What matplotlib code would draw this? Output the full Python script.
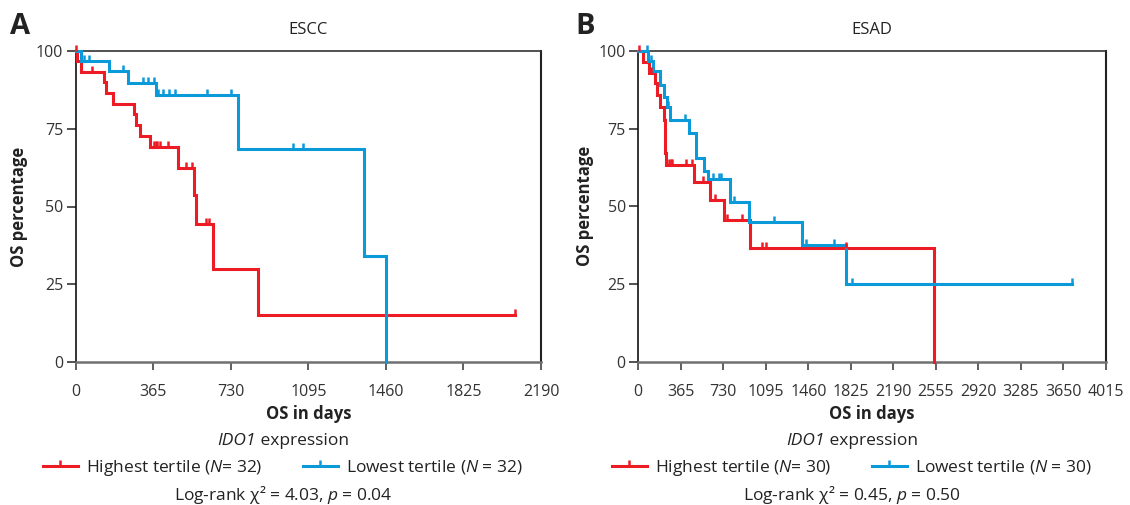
import numpy as np
import matplotlib
matplotlib.use("Agg")
import matplotlib.pyplot as plt
from matplotlib.path import Path
from matplotlib.lines import Line2D
from matplotlib.offsetbox import TextArea, HPacker, AnchoredOffsetbox

plt.rcParams['font.family'] = ['Open Sans', 'DejaVu Sans']
plt.rcParams['mathtext.fontset'] = 'custom'
plt.rcParams['mathtext.rm'] = 'Open Sans'
plt.rcParams['mathtext.it'] = 'Open Sans:italic'
plt.rcParams['mathtext.bf'] = 'Open Sans:bold'

RED = '#ED1C24'
BLUE = '#0A9AD9'
TXT = '#222222'

# ---- data ----
# ESCC, highest tertile
escc_hi_t = [0, 8, 24, 133, 141, 177, 274, 284, 303, 350, 483, 557, 566, 648, 856]
escc_hi_s = [100, 96.8, 93.4, 90.0, 86.6, 83.1, 79.7, 76.1, 72.6, 69.2, 62.4, 53.6, 44.5, 29.8, 15.0]
escc_hi_cens = [0, 78, 368, 376, 384, 397, 436, 519, 546, 613, 629, 2067]
# ESCC, lowest tertile
escc_lo_t = [0, 24, 158, 248, 376, 765, 1358, 1460]
escc_lo_s = [100, 96.8, 93.6, 89.8, 85.8, 68.5, 34.1, 0]
escc_lo_cens = [39, 63, 224, 318, 342, 368, 389, 412, 441, 469, 618, 731, 1024, 1071]
# ESAD, highest tertile
esad_hi_t = [0, 43, 95, 143, 158, 186, 221, 229, 238, 478, 616, 736, 960, 2538]
esad_hi_s = [100, 96.5, 93.0, 89.6, 85.8, 82.1, 77.7, 67.1, 63.3, 57.9, 52.0, 45.6, 36.6, 0]
esad_hi_cens = [10, 110, 266, 278, 287, 410, 459, 558, 659, 765, 888, 1060, 1094, 1783]
# ESAD, lowest tertile
esad_lo_t = [0, 86, 124, 186, 221, 249, 272, 438, 496, 564, 602, 788, 954, 1409, 1783]
esad_lo_s = [100, 96.8, 93.5, 89.1, 85.3, 81.9, 77.8, 73.5, 65.5, 61.5, 58.7, 51.5, 45.0, 37.6, 25.1]
esad_lo_cens = [75, 106, 258, 401, 639, 696, 708, 822, 1166, 1441, 1684, 1833, 3723]

escc_xticks = list(range(0, 2191, 365))
esad_xticks = list(range(0, 4016, 365))
yticks = [0, 25, 50, 75, 100]

# censor tick: short vertical stroke pointing up
tick_mark = Path([(0, 0), (0, 1)], [Path.MOVETO, Path.LINETO])


def km_curve(ax, t, s, cens, color):
    t = np.array(t, float)
    s = np.array(s, float)
    x = list(t)
    y = list(s)
    if len(cens) and max(cens) > t[-1]:
        x.append(max(cens))
        y.append(s[-1])
    ax.step(x, y, where='post', color=color, lw=2.2, clip_on=False,
            solid_joinstyle='miter', zorder=3)
    c = np.array(cens, float)
    cy = s[np.searchsorted(t, c, side='right') - 1]
    ax.plot(c, cy, ls='none', marker=tick_mark, ms=9, mew=1.8, color=color,
            clip_on=False, zorder=4)


def style_axes(ax, xticks, xmax):
    ax.set_xlim(0, xmax)
    ax.set_ylim(0, 100)
    ax.set_xticks(xticks)
    ax.set_yticks(yticks)
    ax.tick_params(axis='x', direction='out', length=6, width=1.2, color='#444444',
                   pad=10, labelsize=11.5, labelcolor='#333333')
    ax.tick_params(axis='y', direction='out', length=6.5, width=1.2, color='#333333',
                   pad=2.5, labelsize=11.5, labelcolor='#333333')
    ax.spines['left'].set_color('#111111')
    ax.spines['left'].set_linewidth(1.2)
    ax.spines['bottom'].set_color('#707070')
    ax.spines['bottom'].set_linewidth(1.8)
    ax.spines['top'].set_color('#333333')
    ax.spines['top'].set_linewidth(1.2)
    ax.spines['right'].set_color('#222222')
    ax.spines['right'].set_linewidth(1.5)
    ax.set_xlabel('OS in days', fontsize=12, fontweight='bold', color=TXT, va='center')
    ax.set_ylabel('OS percentage', fontsize=12, fontweight='bold', color=TXT, va='center')
    ax.xaxis.set_label_coords(0.5, -0.168)


W, H = 1130, 505
fig = plt.figure(figsize=(W / 100, H / 100), dpi=100)
axA = fig.add_axes([75.7 / W, (H - 362) / H, 465.3 / W, 311 / H])
axB = fig.add_axes([638.3 / W, (H - 361.7) / H, 467.7 / W, 310.7 / H])

km_curve(axA, escc_hi_t, escc_hi_s, escc_hi_cens, RED)
km_curve(axA, escc_lo_t, escc_lo_s, escc_lo_cens, BLUE)
km_curve(axB, esad_hi_t, esad_hi_s, esad_hi_cens, RED)
km_curve(axB, esad_lo_t, esad_lo_s, esad_lo_cens, BLUE)

style_axes(axA, escc_xticks, 2190)
style_axes(axB, esad_xticks, 4015)
axA.yaxis.set_label_coords(-0.121, 0.5)
axB.yaxis.set_label_coords(-0.114, 0.5)

fig.text(308 / W, 1 - 30 / H, 'ESCC', ha='center', va='center', fontsize=12, color=TXT)
fig.text(872 / W, 1 - 30 / H, 'ESAD', ha='center', va='center', fontsize=12, color=TXT)
fig.text(20 / W, 1 - 26 / H, 'A', ha='center', va='center', fontsize=21, fontweight='bold', color=TXT)
fig.text(585 / W, 1 - 26 / H, 'B', ha='center', va='center', fontsize=21, fontweight='bold', color=TXT)

FS = 12.5
panels = [
    (283, '32', '32', 'Log-rank χ² = 4.03, $p$ = 0.04'),
    (852, '30', '30', 'Log-rank χ² = 0.45, $p$ = 0.50'),
]
for cx, n_hi, n_lo, stat in panels:
    # "IDO1" in italics followed by " expression"
    caption = HPacker(children=[
        TextArea('IDO1', textprops=dict(fontsize=FS, style='italic', color=TXT)),
        TextArea(' expression', textprops=dict(fontsize=FS, color=TXT)),
    ], sep=0, pad=0, align='baseline')
    box = AnchoredOffsetbox(loc='center', child=caption, pad=0, borderpad=0, frameon=False,
                            bbox_to_anchor=(cx / W, 1 - 441 / H),
                            bbox_transform=fig.transFigure)
    fig.add_artist(box)

    handles = [Line2D([], [], color=RED, lw=2.2, marker=tick_mark, ms=9, mew=1.8),
               Line2D([], [], color=BLUE, lw=2.2, marker=tick_mark, ms=9, mew=1.8)]
    labels = ['Highest tertile ($N$= %s)' % n_hi, 'Lowest tertile ($N$ = %s)' % n_lo]
    leg = fig.legend(handles, labels, loc='center', bbox_to_anchor=(cx / W, 1 - 468 / H),
                     ncol=2, frameon=False, fontsize=FS, handlelength=2.0,
                     handletextpad=0.5, columnspacing=2.3, numpoints=1)
    for txt in leg.get_texts():
        txt.set_color(TXT)
    fig.text(cx / W, 1 - 495 / H, stat, ha='center', va='center', fontsize=FS, color=TXT)

fig.savefig('out.png', dpi=100)
